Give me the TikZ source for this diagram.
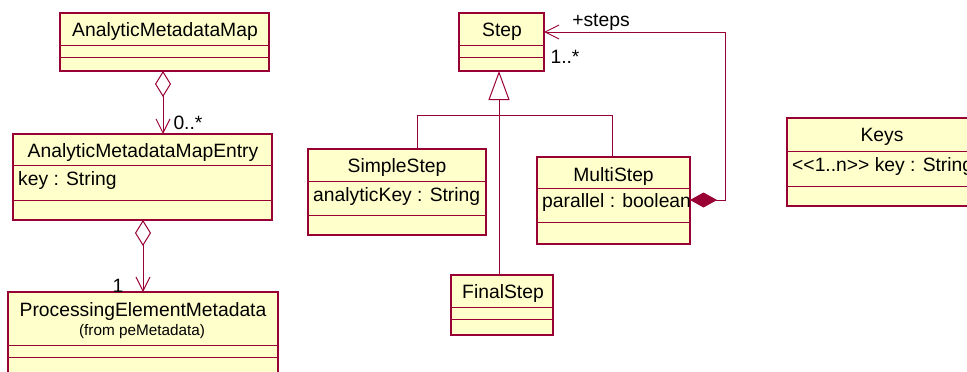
\documentclass[tikz,border=0pt]{standalone}
\usepackage{fontspec}
\setmainfont{Liberation Sans}
\usetikzlibrary{arrows.meta,fit}
\definecolor{umlred}{RGB}{153,0,51}
\definecolor{umlfill}{RGB}{255,255,204}
\newcommand{\umlsep}[2]{\draw[sepline] (#1.west |- 0,#2) -- (#1.east |- 0,#2);}
\begin{document}
\begin{tikzpicture}[x=1pt,y=-1pt,
  clsbox/.style={draw=umlred, fill=umlfill, line width=1.3pt, inner sep=0pt, outer sep=0pt},
  sepline/.style={draw=umlred, line width=1pt},
  conn/.style={draw=umlred, line width=1pt},
  title/.style={font=\fontsize{19.3}{22}\selectfont, inner sep=0pt, anchor=base, text=black},
  attr/.style={font=\fontsize{19.3}{22}\selectfont, inner sep=0pt, anchor=base west, text=black},
  small/.style={font=\fontsize{15.3}{17}\selectfont, inner sep=0pt, anchor=base, text=black},
  mult/.style={font=\fontsize{19.3}{22}\selectfont, inner sep=0pt, anchor=base, text=black},
  odiam/.tip={Diamond[open,length=26pt,width=16pt]},
  fdiam/.tip={Diamond[length=27pt,width=15pt]},
  barb/.tip={Straight Barb[length=14pt,width=14pt]}
]
\useasboundingbox (0,0) rectangle (967,372);
\clip (0,0) rectangle (967,372);

% ---- classes ----
\node[clsbox, fit={(60,13) (269,71)}] (amm) {};
\umlsep{amm}{45}\umlsep{amm}{57}
\node[title] (ammT) at (165,36) {AnalyticMetadataMap};

\node[clsbox, fit={(13,134) (272,220)}] (ame) {};
\umlsep{ame}{165}\umlsep{ame}{200}
\node[title] (ameT) at (143,157) {AnalyticMetadataMapEntry};
\node[attr] (ameA) at (18,185) {key : String};

\node[clsbox, fit={(8,292) (278,400)}] (pem) {};
\umlsep{pem}{345}\umlsep{pem}{357}
\node[title] (pemT) at (143,316) {ProcessingElementMetadata};
\node[small] (pemS) at (142,335) {(from peMetadata)};

\node[clsbox, fit={(459,13) (544,71)}] (step) {};
\umlsep{step}{45}\umlsep{step}{57}
\node[title] (stepT) at (502,36) {Step};

\node[clsbox, fit={(308,149) (486,235)}] (simple) {};
\umlsep{simple}{181}\umlsep{simple}{215}
\node[title] (simpleT) at (397,172) {SimpleStep};
\node[attr] (simpleA) at (313,201) {analyticKey : String};

\node[clsbox, fit={(537,157) (690,244)}] (multi) {};
\umlsep{multi}{188}\umlsep{multi}{222}
\node[title] (multiT) at (613.5,181) {MultiStep};
\node[attr] (multiA) at (542,207) {parallel : boolean};

\node[clsbox, fit={(451,275) (553,335)}] (final) {};
\umlsep{final}{307}\umlsep{final}{319}
\node[title] (finalT) at (503,298) {FinalStep};

\node[clsbox, fit={(787,118) (980,206)}] (keys) {};
\umlsep{keys}{151}\umlsep{keys}{186}
\node[title] (keysT) at (882,141) {Keys};
\node[attr] (keysA) at (792,171) {{<}{<}1..n{>}{>} key : String};

% ---- connectors ----
\draw[conn, odiam-barb] (amm.south -| 163,0) -- (ame.north -| 163,0);
\draw[conn, odiam-barb] (ame.south -| 143,0) -- (pem.north -| 143,0);

\coordinate (gj) at (499,115);
\draw[conn, -{Triangle[open,length=29pt,width=21pt]}] (gj) -- (step.south -| gj);
\draw[conn] (simple.north -| 417,0) -- (417,115) -- (612,115) -- (multi.north -| 612,0);
\draw[conn] (final.north -| gj) -- (gj);

\coordinate (sa) at (725,200);
\coordinate (sb) at (725,32);
\draw[conn, fdiam-barb] (multi.east |- sa) -- (sa) -- (sb) -- (step.east |- sb);

% ---- labels ----
\node[mult] (m1) at (188,129) {0..*};
\node[mult] (m2) at (118,292) {1};
\node[mult] (m3) at (601,27) {+steps};
\node[mult] (m4) at (565,63) {1..*};
\end{tikzpicture}
\end{document}
